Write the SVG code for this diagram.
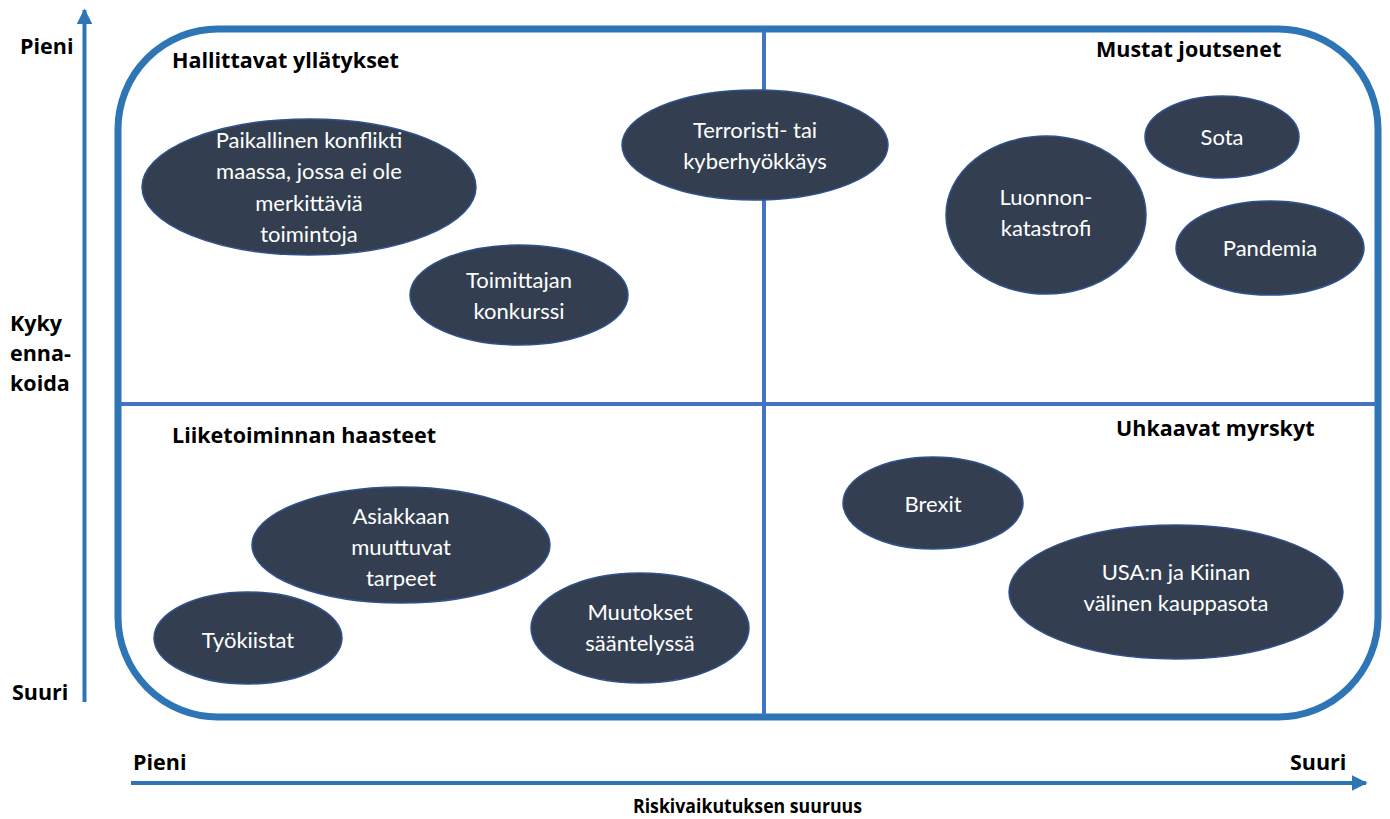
<svg xmlns="http://www.w3.org/2000/svg" width="1390" height="819" viewBox="0 0 1390 819">
<defs>
<style>
.ax{stroke:#2E75B6;stroke-width:4;fill:none}
.lbl{font-family:"Open Sans","Liberation Sans",sans-serif;font-weight:bold;font-size:21.5px;fill:#000}
.node ellipse{fill:#333F50;stroke:#2F528F;stroke-width:1.5}
.node text{font-family:Lato,"Liberation Sans",sans-serif;font-size:22px;fill:#FFFFFF;text-anchor:middle}
</style>
<marker id="ah" viewBox="0 0 10 10" refX="9" refY="5" markerWidth="4" markerHeight="4" orient="auto" markerUnits="strokeWidth">
<path d="M0,0 L10,5 L0,10 Z" fill="#2E75B6"/>
</marker>
</defs>
<rect width="1390" height="819" fill="#fff"/>
<g id="frame">
<rect x="118" y="29" width="1260" height="688" rx="100" ry="100" fill="none" stroke="#2E75B6" stroke-width="7"/>
<line x1="764" y1="31" x2="764" y2="715" stroke="#4472C4" stroke-width="4"/>
<line x1="120" y1="404" x2="1376" y2="404" stroke="#4472C4" stroke-width="4"/>
</g>
<g id="connectors">
<line class="ax" x1="84.5" y1="702" x2="84.5" y2="10" marker-end="url(#ah)"/>
<line class="ax" x1="131" y1="783" x2="1366" y2="783" marker-end="url(#ah)"/>
</g>
<g id="labels">
<text class="lbl" x="20" y="54">Pieni</text>
<text class="lbl" x="12" y="700">Suuri</text>
<text class="lbl" x="10" y="331">Kyky</text>
<text class="lbl" x="10" y="361">enna-</text>
<text class="lbl" x="10" y="391">koida</text>
<text class="lbl" x="133" y="770">Pieni</text>
<text class="lbl" x="1290" y="770">Suuri</text>
<text class="lbl" x="633" y="813" style="font-size:19px" textLength="229" lengthAdjust="spacingAndGlyphs">Riskivaikutuksen suuruus</text>
<text class="lbl" x="172" y="68">Hallittavat yllätykset</text>
<text class="lbl" x="1096" y="57">Mustat joutsenet</text>
<text class="lbl" x="172" y="443">Liiketoiminnan haasteet</text>
<text class="lbl" x="1116" y="436">Uhkaavat myrskyt</text>
</g>
<g id="n1" class="node"><ellipse cx="309" cy="187" rx="167" ry="68"/>
<text x="309" y="148">Paikallinen konflikti</text><text x="309" y="179">maassa, jossa ei ole</text><text x="309" y="211">merkittäviä</text><text x="309" y="242">toimintoja</text></g>
<g id="n2" class="node"><ellipse cx="755" cy="145" rx="133" ry="55"/>
<text x="755" y="138">Terroristi- tai</text><text x="755" y="169">kyberhyökkäys</text></g>
<g id="n3" class="node"><ellipse cx="519" cy="295" rx="109" ry="50"/>
<text x="519" y="288">Toimittajan</text><text x="519" y="319">konkurssi</text></g>
<g id="n4" class="node"><ellipse cx="1046" cy="215" rx="100" ry="79"/>
<text x="1046" y="205">Luonnon-</text><text x="1046" y="236">katastrofi</text></g>
<g id="n5" class="node"><ellipse cx="1222" cy="137" rx="77" ry="41"/>
<text x="1222" y="145">Sota</text></g>
<g id="n6" class="node"><ellipse cx="1270" cy="248" rx="94" ry="47"/>
<text x="1270" y="256">Pandemia</text></g>
<g id="n7" class="node"><ellipse cx="401" cy="545" rx="149" ry="58"/>
<text x="401" y="524">Asiakkaan</text><text x="401" y="555">muuttuvat</text><text x="401" y="586">tarpeet</text></g>
<g id="n8" class="node"><ellipse cx="248" cy="638" rx="94" ry="46"/>
<text x="248" y="648">Työkiistat</text></g>
<g id="n9" class="node"><ellipse cx="640" cy="628" rx="109" ry="55"/>
<text x="640" y="620">Muutokset</text><text x="640" y="651">sääntelyssä</text></g>
<g id="n10" class="node"><ellipse cx="933" cy="503" rx="90" ry="46"/>
<text x="933" y="512">Brexit</text></g>
<g id="n11" class="node"><ellipse cx="1176" cy="592" rx="167" ry="67"/>
<text x="1176" y="580">USA:n ja Kiinan</text><text x="1176" y="611">välinen kauppasota</text></g>
</svg>
